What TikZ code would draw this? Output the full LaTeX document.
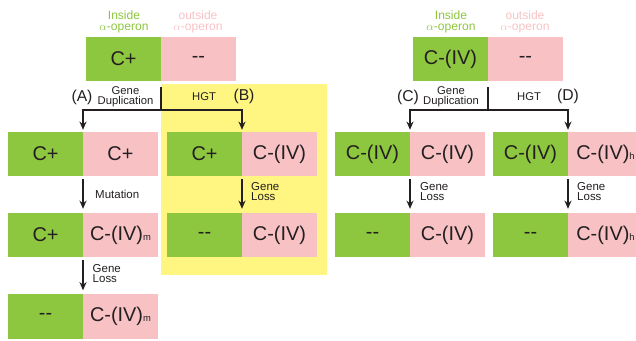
\documentclass[tikz,border=0pt]{standalone}
\usepackage{fontspec}
\setmainfont{Liberation Sans}
\usetikzlibrary{arrows.meta}

\definecolor{opgreen}{RGB}{141,198,63}
\definecolor{oppink}{RGB}{248,194,197}
\definecolor{hgtyellow}{RGB}{255,246,130}
\definecolor{ink}{RGB}{35,31,32}

\tikzset{
  cell/.style={minimum width=2.235cm, minimum height=1.32cm, inner sep=0pt,
    font=\fontsize{17}{17}\selectfont, text=ink},
  incell/.style={cell, fill=opgreen, anchor=east},
  outcell/.style={cell, fill=oppink, anchor=west},
  header/.style={font=\fontsize{10.3}{9.4}\selectfont, align=center, inner sep=0pt},
  event/.style={font=\fontsize{9.6}{8.2}\selectfont, align=center, inner sep=0pt, text=ink},
  note/.style={font=\fontsize{9.8}{8.5}\selectfont, align=left, anchor=west, inner sep=0pt, text=ink},
  tag/.style={font=\fontsize{13.4}{13}\selectfont, inner sep=0pt, text=ink},
  link/.style={line width=1.1pt, draw=ink},
  arr/.style={link, -{Stealth[length=7pt,width=6pt]}}
}
\newcommand{\subm}[1]{{\fontsize{8}{8}\selectfont #1}}

\begin{document}
\begin{tikzpicture}[x=0.03cm,y=-0.03cm]
  \useasboundingbox (0,0) rectangle (636,341);
  \clip (0,0) rectangle (636,341);
  % HGT background
  \fill[hgtyellow] (161,84) rectangle (327,275);

  % headers
  \node[header, text=opgreen] (hin1) at (124,22) {Inside\\$\alpha$-operon};
  \node[header, text=oppink] (hout1) at (198,22) {outside\\$\alpha$-operon};
  \node[header, text=opgreen] (hin2) at (451,22) {Inside\\$\alpha$-operon};
  \node[header, text=oppink] (hout2) at (525,22) {outside\\$\alpha$-operon};

  % left tree
  \node[incell] (a0in) at (161,59) {C+};
  \node[outcell] (a0out) at (161,59) {{-}{-}};
  \node[incell] (a1in) at (83,154) {C+};
  \node[outcell] (a1out) at (83,154) {C+};
  \node[incell] (a2in) at (83,235) {C+};
  \node[outcell] (a2out) at (83,235) {C-(IV)\subm{m}};
  \node[incell] (a3in) at (83,316.5) {{-}{-}};
  \node[outcell] (a3out) at (83,316.5) {C-(IV)\subm{m}};
  \node[incell] (b1in) at (242,154) {C+};
  \node[outcell] (b1out) at (242,154) {C-(IV)};
  \node[incell] (b2in) at (242,235) {{-}{-}};
  \node[outcell] (b2out) at (242,235) {C-(IV)};

  \coordinate (ja) at (161,110);
  \draw[link] ([yshift=-5pt]a0in.south east) -- (ja);
  \draw[arr] (ja) -| ([yshift=1.7pt]a1in.north east);
  \draw[arr] (ja) -| ([yshift=1.7pt]b1in.north east);
  \draw[arr] ([yshift=-2.6pt]a1in.south east) -- ([yshift=3.4pt]a2in.north east);
  \draw[arr] ([yshift=-2.6pt]a2in.south east) -- ([yshift=3.4pt]a3in.north east);
  \draw[arr] ([yshift=-2.6pt]b1in.south east) -- ([yshift=3.4pt]b2in.north east);

  \node[tag] (taga) at (82,97) {(A)};
  \node[event] (dupa) at (125.5,97) {Gene\\Duplication};
  \node[event] (hgta) at (204,97) {HGT};
  \node[tag] (tagb) at (244,96) {(B)};
  \node[note] (muta) at (95,194) {Mutation};
  \node[note] (lossa) at (92.5,274) {Gene\\Loss};
  \node[note] (lossb) at (251,192) {Gene\\Loss};

  % right tree
  \node[incell] (c0in) at (488,59) {C-(IV)};
  \node[outcell] (c0out) at (488,59) {{-}{-}};
  \node[incell] (c1in) at (410,154) {C-(IV)};
  \node[outcell] (c1out) at (410,154) {C-(IV)};
  \node[incell] (c2in) at (410,235) {{-}{-}};
  \node[outcell] (c2out) at (410,235) {C-(IV)};
  \node[incell] (d1in) at (568,154) {C-(IV)};
  \node[outcell] (d1out) at (568,154) {C-(IV)\subm{h}};
  \node[incell] (d2in) at (568,235) {{-}{-}};
  \node[outcell] (d2out) at (568,235) {C-(IV)\subm{h}};

  \coordinate (jc) at (488,110);
  \draw[link] ([yshift=-5pt]c0in.south east) -- (jc);
  \draw[arr] (jc) -| ([yshift=1.7pt]c1in.north east);
  \draw[arr] (jc) -| ([yshift=1.7pt]d1in.north east);
  \draw[arr] ([yshift=-2.6pt]c1in.south east) -- ([yshift=3.4pt]c2in.north east);
  \draw[arr] ([yshift=-2.6pt]d1in.south east) -- ([yshift=3.4pt]d2in.north east);

  \node[tag] (tagc) at (408,97) {(C)};
  \node[event] (dupc) at (451,97) {Gene\\Duplication};
  \node[event] (hgtc) at (529,97) {HGT};
  \node[tag] (tagd) at (568,96) {(D)};
  \node[note] (lossc) at (420,192) {Gene\\Loss};
  \node[note] (lossd) at (577,192) {Gene\\Loss};
\end{tikzpicture}
\end{document}
